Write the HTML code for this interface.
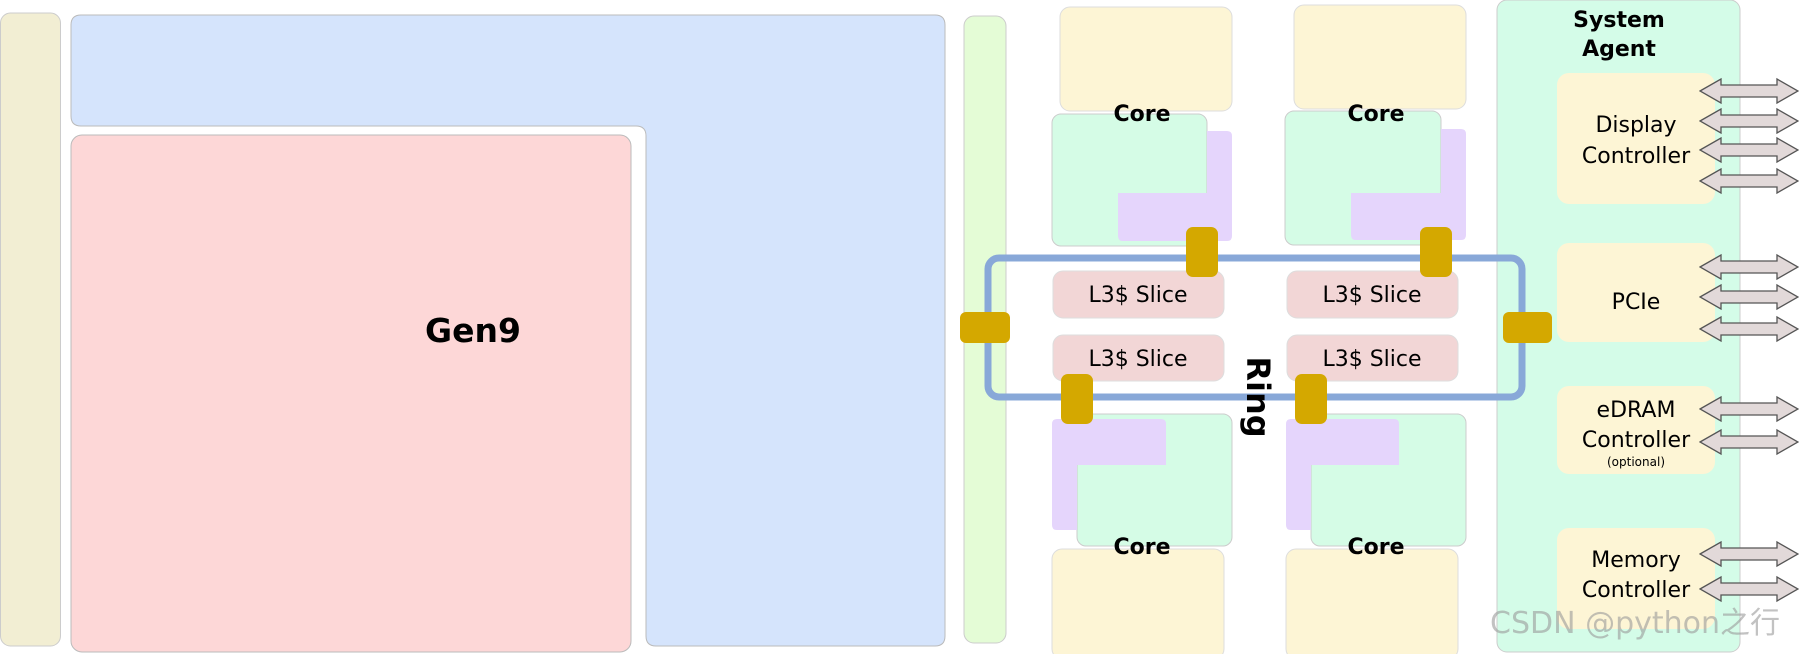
<!DOCTYPE html>
<html><head><meta charset="utf-8"><style>
html,body{margin:0;padding:0;background:#fff;}
svg{display:block;}
text{font-family:"DejaVu Sans","Liberation Sans",sans-serif;}
</style></head><body>
<svg width="1800" height="654" viewBox="0 0 1800 654" xmlns="http://www.w3.org/2000/svg">
<defs>
<symbol id="arr" viewBox="0 0 100 28">
<path d="M1,14 L22,2 L22,8 L78,8 L78,2 L99,14 L78,26 L78,20 L22,20 L22,26 Z" fill="#e2d9d9" stroke="#555" stroke-width="1.3"/>
</symbol>
</defs>
<rect x="0.5" y="13" width="60" height="633" rx="10" fill="#f2eed3" stroke="#ccc"/>
<path d="M81,15 H935 Q945,15 945,25 V636 Q945,646 935,646 H656 Q646,646 646,636 V136 Q646,126 636,126 H81 Q71,126 71,116 V25 Q71,15 81,15 Z" fill="#d5e4fc" stroke="#bbb"/>
<rect x="71" y="135" width="560" height="517" rx="11" fill="#fdd7d7" stroke="#bbb"/>
<text x="473" y="342" font-size="33" font-weight="bold" text-anchor="middle">Gen9</text>
<rect x="964" y="16" width="42" height="627" rx="10" fill="#e4fcd6" stroke="#ccc"/>

<rect x="1060" y="7" width="172" height="104" rx="10" fill="#fdf5d5" stroke="#ddd"/>
<rect x="1052" y="114" width="155" height="132" rx="9" fill="#d5fce6" stroke="#ccc"/>
<path d="M1207,131 H1227 Q1232,131 1232,136 V236 Q1232,241 1227,241 H1123 Q1118,241 1118,236 V193 H1207 Z" fill="#e5d5fc"/>
<text x="1142" y="121" font-size="22" font-weight="bold" text-anchor="middle">Core</text>
<rect x="1294" y="5" width="172" height="104" rx="10" fill="#fdf5d5" stroke="#ddd"/>
<rect x="1285" y="111" width="156" height="134" rx="9" fill="#d5fce6" stroke="#ccc"/>
<path d="M1441,129 H1461 Q1466,129 1466,134 V235 Q1466,240 1461,240 H1356 Q1351,240 1351,235 V193 H1441 Z" fill="#e5d5fc"/>
<text x="1376" y="121" font-size="22" font-weight="bold" text-anchor="middle">Core</text>

<rect x="1077" y="414" width="155" height="132" rx="9" fill="#d5fce6" stroke="#ccc"/>
<path d="M1057,419 H1161 Q1166,419 1166,424 V465 H1077 V530 H1057 Q1052,530 1052,525 V424 Q1052,419 1057,419 Z" fill="#e5d5fc"/>
<rect x="1052" y="549" width="172" height="110" rx="10" fill="#fdf5d5" stroke="#ddd"/>
<text x="1142" y="554" font-size="22" font-weight="bold" text-anchor="middle">Core</text>
<rect x="1311" y="414" width="155" height="132" rx="9" fill="#d5fce6" stroke="#ccc"/>
<path d="M1291,419 H1394 Q1399,419 1399,424 V465 H1311 V530 H1291 Q1286,530 1286,525 V424 Q1286,419 1291,419 Z" fill="#e5d5fc"/>
<rect x="1286" y="549" width="172" height="110" rx="10" fill="#fdf5d5" stroke="#ddd"/>
<text x="1376" y="554" font-size="22" font-weight="bold" text-anchor="middle">Core</text>

<g fill="#f2d6d6" stroke="#ddd">
<rect x="1053" y="271" width="171" height="47" rx="10"/>
<rect x="1053" y="335" width="171" height="46" rx="10"/>
<rect x="1287" y="271" width="171" height="47" rx="10"/>
<rect x="1287" y="335" width="171" height="46" rx="10"/>
</g>
<g font-size="22" text-anchor="middle">
<text x="1138" y="302">L3$ Slice</text>
<text x="1138" y="366">L3$ Slice</text>
<text x="1372" y="302">L3$ Slice</text>
<text x="1372" y="366">L3$ Slice</text>
</g>

<rect x="1497" y="0" width="243" height="652" rx="10" fill="#d4fce8" stroke="#ccc"/>

<rect x="988" y="258" width="534" height="139" rx="11" fill="none" stroke="#88a8d8" stroke-width="7"/>
<text transform="translate(1247,397) rotate(90)" font-size="32" font-weight="bold" text-anchor="middle">Ring</text>

<g fill="#d4a800">
<rect x="1186" y="227" width="32" height="50" rx="7"/>
<rect x="1420" y="227" width="32" height="50" rx="7"/>
<rect x="960" y="312" width="50" height="31" rx="6"/>
<rect x="1061" y="374" width="32" height="50" rx="7"/>
<rect x="1295" y="374" width="32" height="50" rx="7"/>
<rect x="1503" y="312" width="49" height="31" rx="6"/>
</g>

<text x="1619" y="27" font-size="22" font-weight="bold" text-anchor="middle">System</text>
<text x="1619" y="56" font-size="22" font-weight="bold" text-anchor="middle">Agent</text>
<g fill="#fdf5d5">
<rect x="1557" y="73" width="158" height="131" rx="12"/>
<rect x="1557" y="243" width="158" height="99" rx="12"/>
<rect x="1557" y="386" width="158" height="88" rx="12"/>
<rect x="1557" y="528" width="158" height="101" rx="12"/>
</g>
<g font-size="22" text-anchor="middle">
<text x="1636" y="132">Display</text>
<text x="1636" y="163">Controller</text>
<text x="1636" y="309">PCIe</text>
<text x="1636" y="417">eDRAM</text>
<text x="1636" y="447">Controller</text>
<text x="1636" y="466" font-size="12">(optional)</text>
<text x="1636" y="567">Memory</text>
<text x="1636" y="597">Controller</text>
</g>
<use href="#arr" x="1699" y="77" width="100" height="28"/>
<use href="#arr" x="1699" y="107" width="100" height="28"/>
<use href="#arr" x="1699" y="136" width="100" height="28"/>
<use href="#arr" x="1699" y="167" width="100" height="28"/>
<use href="#arr" x="1699" y="253" width="100" height="28"/>
<use href="#arr" x="1699" y="283" width="100" height="28"/>
<use href="#arr" x="1699" y="315" width="100" height="28"/>
<use href="#arr" x="1699" y="395" width="100" height="28"/>
<use href="#arr" x="1699" y="428" width="100" height="28"/>
<use href="#arr" x="1699" y="540" width="100" height="28"/>
<use href="#arr" x="1699" y="575" width="100" height="28"/>
<text x="1490" y="633" font-size="30" fill="#999" fill-opacity="0.6" font-family="'Liberation Sans','Noto Sans CJK SC',sans-serif">CSDN @python之行</text>
</svg>
</body></html>
